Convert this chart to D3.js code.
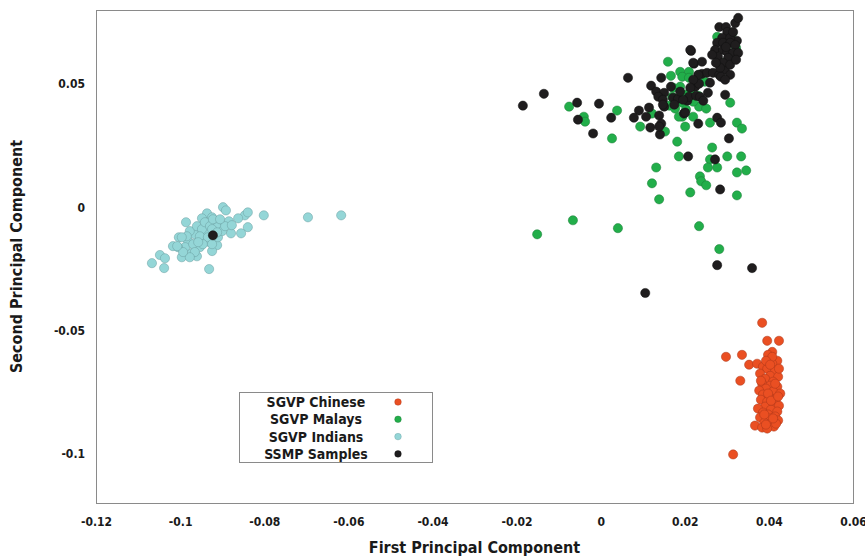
<!DOCTYPE html>
<html>
<head>
<meta charset="utf-8">
<script src="https://cdn.jsdelivr.net/npm/d3@7"></script>
<style>
  html, body { margin: 0; padding: 0; background: #fff; }
  svg text { font-family: "Liberation Sans Narrow", "DejaVu Sans Condensed", Arial, sans-serif; font-weight: bold; fill: #1a1a1a; }
</style>
</head>
<body>
<svg id="chart" width="865" height="558"></svg>
<script>
// PCA scatter: first vs second principal component
const xTicks = [-0.12, -0.1, -0.08, -0.06, -0.04, -0.02, 0, 0.02, 0.04, 0.06];
const yTicks = [-0.1, -0.05, 0, 0.05];

const seriesNames = ["SGVP Chinese", "SGVP Malays", "SGVP Indians", "SSMP Samples"];
const seriesColors = ["#ea4f22", "#22ae4a", "#94d6d7", "#1f1d1e"];
const seriesStrokes = ["#a8361a", "#1a7a36", "#6a9fa1", "#111"];

const chineseX = [0.0384, 0.0396, 0.0424, 0.0298, 0.0336, 0.0353, 0.0372, 0.0332, 0.0367, 0.0315,
  0.0408, 0.0398, 0.0420, 0.0408, 0.0386, 0.0396, 0.0415, 0.0379, 0.0403, 0.0422,
  0.0391, 0.0410, 0.0384, 0.0403, 0.0420, 0.0393, 0.0377, 0.0410, 0.0427, 0.0386,
  0.0400, 0.0417, 0.0381, 0.0396, 0.0412, 0.0424, 0.0391, 0.0374, 0.0405, 0.0420,
  0.0386, 0.0398, 0.0415, 0.0379, 0.0403, 0.0422, 0.0389, 0.0400, 0.0412, 0.0384,
  0.0396, 0.0417, 0.0408, 0.0393, 0.0424, 0.0381, 0.0415, 0.0398, 0.0405, 0.0389,
  0.0410, 0.0403, 0.0422, 0.0393];
const chineseY = [-0.0469, -0.0542, -0.0542, -0.0607, -0.0599, -0.0639, -0.0635, -0.0704, -0.0886, -0.1003,
  -0.0587, -0.0599, -0.0623, -0.0635, -0.0647, -0.0655, -0.0663, -0.0675, -0.0684, -0.0688,
  -0.0696, -0.0708, -0.0716, -0.0724, -0.0728, -0.0736, -0.0744, -0.0748, -0.0756, -0.0760,
  -0.0768, -0.0777, -0.0781, -0.0789, -0.0797, -0.0805, -0.0809, -0.0817, -0.0821, -0.0829,
  -0.0833, -0.0841, -0.0849, -0.0853, -0.0857, -0.0865, -0.0874, -0.0882, -0.0890, -0.0894,
  -0.0898, -0.0878, -0.0607, -0.0623, -0.0655, -0.0704, -0.0716, -0.0756, -0.0785, -0.0841,
  -0.0857, -0.0639, -0.0768, -0.0882];

const malaysX = [-0.0075, -0.0040, -0.0037, 0.0039, 0.0027, 0.0094, 0.0122, 0.0160, 0.0189, 0.0210,
  0.0167, 0.0194, 0.0210, 0.0234, 0.0277, 0.0313, 0.0172, 0.0189, 0.0213, 0.0201,
  0.0170, 0.0232, 0.0194, 0.0234, 0.0251, 0.0220, 0.0163, 0.0177, 0.0203, 0.0194,
  0.0186, 0.0220, 0.0260, 0.0201, 0.0308, 0.0324, 0.0336, 0.0182, 0.0265, 0.0153,
  0.0186, 0.0260, 0.0255, 0.0277, 0.0301, 0.0334, 0.0324, 0.0346, 0.0236, 0.0239,
  0.0251, 0.0132, 0.0122, 0.0139, 0.0213, 0.0324, 0.0234, 0.0282, -0.0066, -0.0151,
  0.0041, 0.0294, 0.0248, 0.0322];
const malaysY = [0.0408, 0.0367, 0.0347, 0.0392, 0.0279, 0.0327, 0.0380, 0.0590, 0.0549, 0.0549,
  0.0533, 0.0529, 0.0525, 0.0537, 0.0691, 0.0707, 0.0485, 0.0489, 0.0469, 0.0456,
  0.0448, 0.0452, 0.0424, 0.0408, 0.0400, 0.0428, 0.0412, 0.0400, 0.0396, 0.0367,
  0.0367, 0.0367, 0.0343, 0.0327, 0.0424, 0.0343, 0.0319, 0.0266, 0.0242, 0.0307,
  0.0206, 0.0194, 0.0161, 0.0161, 0.0206, 0.0206, 0.0141, 0.0149, 0.0125, 0.0105,
  0.0089, 0.0161, 0.0097, 0.0032, 0.0060, 0.0048, -0.0077, -0.0170, -0.0053, -0.0110,
  -0.0085, 0.0586, 0.0509, 0.0646];

const indiansX = [-0.0898, -0.0891, -0.0846, -0.0839, -0.0801, -0.0696, -0.0617, -0.0986, -0.0936, -0.0924,
  -0.0948, -0.0884, -0.0908, -0.0839, -0.0855, -0.0879, -0.0912, -0.0924, -0.0931, -0.1067,
  -0.1038, -0.1048, -0.1036, -0.0996, -0.1017, -0.1003, -0.0981, -0.0965, -0.0977, -0.0960,
  -0.0953, -0.0960, -0.0972, -0.0988, -0.1005, -0.0941, -0.0929, -0.0910, -0.0936, -0.0948,
  -0.0984, -0.0996, -0.0969, -0.0953, -0.0941, -0.0929, -0.0912, -0.0900, -0.0893, -0.0922,
  -0.0905, -0.0924, -0.0965, -0.0977, -0.0993, -0.1007, -0.0912, -0.0934, -0.0946, -0.0924,
  -0.0862, -0.0877, -0.0957];
const indiansY = [0.0000, -0.0013, -0.0033, -0.0021, -0.0033, -0.0041, -0.0033, -0.0061, -0.0025, -0.0041,
  -0.0045, -0.0057, -0.0069, -0.0081, -0.0106, -0.0106, -0.0154, -0.0178, -0.0251, -0.0227,
  -0.0247, -0.0194, -0.0207, -0.0203, -0.0158, -0.0122, -0.0138, -0.0110, -0.0097, -0.0077,
  -0.0162, -0.0199, -0.0186, -0.0162, -0.0162, -0.0138, -0.0142, -0.0122, -0.0102, -0.0089,
  -0.0118, -0.0122, -0.0150, -0.0118, -0.0061, -0.0077, -0.0081, -0.0097, -0.0077, -0.0049,
  -0.0049, -0.0089, -0.0182, -0.0203, -0.0182, -0.0158, -0.0102, -0.0122, -0.0150, -0.0150,
  -0.0045, -0.0073, -0.0142];

const ssmpX = [-0.0185, -0.0135, -0.0056, -0.0004, 0.0065, -0.0054, -0.0018, 0.0025, 0.0091, 0.0079,
  0.0108, 0.0115, 0.0118, 0.0120, 0.0132, 0.0139, 0.0141, 0.0144, 0.0144, 0.0151,
  0.0167, 0.0137, 0.0148, 0.0151, 0.0172, 0.0184, 0.0198, 0.0206, 0.0210, 0.0215,
  0.0222, 0.0241, 0.0225, 0.0234, 0.0227, 0.0255, 0.0232, 0.0241, 0.0253, 0.0267,
  0.0282, 0.0296, 0.0308, 0.0296, 0.0277, 0.0286, 0.0305, 0.0208, 0.0282, 0.0298,
  0.0301, 0.0320, 0.0327, 0.0324, 0.0289, 0.0308, 0.0277, 0.0291, 0.0308, 0.0320,
  0.0272, 0.0291, 0.0301, 0.0315, 0.0327, 0.0279, 0.0303, 0.0291, 0.0308, 0.0284,
  0.0213, 0.0220, 0.0286, 0.0232, 0.0220, 0.0213, 0.0236, 0.0196, 0.0244, 0.0272,
  0.0284, 0.0277, 0.0360, 0.0106, 0.0201, 0.0139, 0.0148, 0.0175, 0.0296, 0.0315,
  0.0298, 0.0265, 0.0322, 0.0274, 0.0260, 0.0189, -0.0922];
const ssmpY = [0.0412, 0.0460, 0.0424, 0.0420, 0.0525, 0.0355, 0.0299, 0.0363, 0.0392, 0.0363,
  0.0367, 0.0404, 0.0323, 0.0493, 0.0469, 0.0372, 0.0295, 0.0339, 0.0525, 0.0464,
  0.0489, 0.0448, 0.0436, 0.0408, 0.0444, 0.0440, 0.0380, 0.0432, 0.0448, 0.0634,
  0.0582, 0.0590, 0.0489, 0.0501, 0.0452, 0.0464, 0.0339, 0.0541, 0.0545, 0.0545,
  0.0537, 0.0557, 0.0537, 0.0456, 0.0363, 0.0343, 0.0279, 0.0206, 0.0731, 0.0731,
  0.0711, 0.0747, 0.0768, 0.0675, 0.0687, 0.0687, 0.0667, 0.0667, 0.0667, 0.0658,
  0.0638, 0.0638, 0.0630, 0.0626, 0.0626, 0.0610, 0.0606, 0.0586, 0.0578, 0.0566,
  0.0638, 0.0586, 0.0529, 0.0537, 0.0517, 0.0485, 0.0448, 0.0436, 0.0432, 0.0194,
  0.0072, -0.0235, -0.0247, -0.0348, 0.0384, 0.0327, 0.0416, 0.0416, 0.0517, 0.0711,
  0.0650, 0.0618, 0.0598, 0.0586, 0.0505, 0.0469, -0.0114];

const groups = [
  { xs: chineseX, ys: chineseY },
  { xs: malaysX, ys: malaysY },
  { xs: indiansX, ys: indiansY },
  { xs: ssmpX, ys: ssmpY }
];

const W = 865, H = 558;
const margin = { top: 10, right: 12, bottom: 55, left: 96 };
const iw = W - margin.left - margin.right;
const ih = H - margin.top - margin.bottom;

const x = d3.scaleLinear().domain([-0.12, 0.06]).range([0, iw]);
const y = d3.scaleLinear().domain([-0.12, 0.08]).range([ih, 0]);

// plain hyphen for negatives, like the source figure
const fmt = (d) => String(+d.toFixed(2));

const svg = d3.select("#chart");
const g = svg.append("g").attr("transform", `translate(${margin.left},${margin.top})`);

// frame
g.append("rect")
  .attr("x", 0.5).attr("y", 0.5)
  .attr("width", iw).attr("height", ih)
  .attr("fill", "none").attr("stroke", "#8a8a8a").attr("stroke-width", 1);

// axes (labels only, no tick marks)
const xAxis = g.append("g")
  .attr("transform", `translate(0,${ih})`)
  .call(d3.axisBottom(x).tickValues(xTicks).tickSize(0).tickPadding(14).tickFormat(fmt));
xAxis.select(".domain").remove();
xAxis.selectAll("text").attr("font-size", 12);

const yAxis = g.append("g")
  .call(d3.axisLeft(y).tickValues(yTicks).tickSize(0).tickPadding(11).tickFormat(fmt));
yAxis.select(".domain").remove();
yAxis.selectAll("text").attr("font-size", 12);
svg.selectAll(".tick text").attr("font-family", null);

svg.append("text")
  .attr("x", margin.left + iw / 2).attr("y", 553)
  .attr("text-anchor", "middle").attr("font-size", 16)
  .text("First Principal Component");

svg.append("text")
  .attr("transform", `translate(22,${margin.top + ih / 2}) rotate(-90)`)
  .attr("text-anchor", "middle").attr("font-size", 16)
  .text("Second Principal Component");

// points
groups.forEach((s, i) => {
  g.append("g")
    .selectAll("circle")
    .data(d3.range(s.xs.length))
    .join("circle")
    .attr("cx", (k) => x(s.xs[k]))
    .attr("cy", (k) => y(s.ys[k]))
    .attr("r", 4.6)
    .attr("fill", seriesColors[i])
    .attr("stroke", seriesStrokes[i])
    .attr("stroke-width", 0.5);
});

// legend
const lg = svg.append("g").attr("transform", "translate(239,392)");
lg.append("rect")
  .attr("x", 0.5).attr("y", 0.5).attr("width", 193).attr("height", 70)
  .attr("fill", "#fff").attr("stroke", "#8a8a8a");
seriesNames.forEach((name, i) => {
  const row = lg.append("g").attr("transform", `translate(0,${10 + i * 17.3})`);
  row.append("text")
    .attr("x", 77).attr("y", 5).attr("text-anchor", "middle")
    .attr("font-size", 14).text(name);
  row.append("circle")
    .attr("cx", 159).attr("cy", 0).attr("r", 3.3)
    .attr("fill", seriesColors[i]).attr("stroke", seriesStrokes[i]).attr("stroke-width", 0.4);
});
</script>
</body>
</html>
